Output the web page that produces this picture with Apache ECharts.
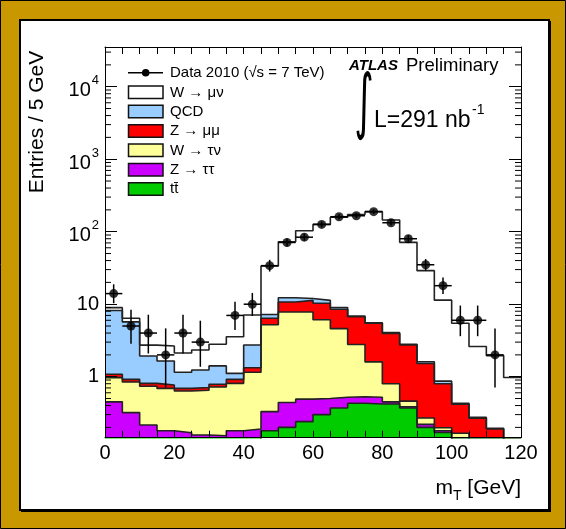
<!DOCTYPE html>
<html>
<head>
<meta charset="utf-8">
<script src="https://cdn.jsdelivr.net/npm/echarts@6/dist/echarts.min.js"></script>
<style>
  html, body { margin: 0; padding: 0; background: #C99700; }
  #chart { width: 566px; height: 529px; }
</style>
</head>
<body>
<div id="chart"></div>
<script>
// Transverse mass m_T, 5 GeV bins from 0 to 120 GeV
const binLow = [0, 5, 10, 15, 20, 25, 30, 35, 40, 45, 50, 55, 60, 65, 70, 75, 80, 85, 90, 95, 100, 105, 110, 115];
const binWidth = 5;

// Observed events per bin (Data 2010) with 68% Poisson interval ends
const dataCounts = [14, 5, 4, 2, 4, 3, 0, 7, 10, 34, 71, 84, 126, 161, 166, 189, 133, 80, 35, 18, 6, 6, 2, 0];
const dataLow  = [10.3, 2.84, 2.09, 0.71, 2.09, 1.37, null, 4.42, 6.89, 28.2, 62.6, 74.9, 114.8, 148.3, 153.1, 175.3, 121.5, 71.1, 29.1, 13.8, 3.62, 3.62, 0.71, null];
const dataHigh = [18.8, 8.38, 7.16, 4.64, 7.16, 5.92, null, 10.8, 14.3, 40.9, 80.5, 94.2, 138.3, 174.7, 179.9, 203.8, 145.6, 90.0, 41.9, 23.3, 9.58, 9.58, 4.64, null];

// Expected contributions per bin, listed from the bottom of the stack upwards
const ttbar   = [0.02, 0.02, 0.02, 0.02, 0.02, 0.02, 0.03, 0.05, 0.12, 0.18, 0.20, 0.24, 0.30, 0.37, 0.43, 0.42, 0.42, 0.37, 0.20, 0.17, 0.12, 0.09, 0.07, 0.05];
const zTauTau = [0.43, 0.30, 0.196, 0.16, 0.149, 0.137, 0.123, 0.13, 0.07, 0.15, 0.24, 0.25, 0.20, 0.15, 0.10, 0.10, 0.03, 0.016, 0.02, 0.01, 0.01, 0.01, 0.01, 0.01];
const wTauNu  = [0.52, 0.525, 0.524, 0.51, 0.466, 0.493, 0.567, 0.63, 0.96, 4.87, 7.36, 7.31, 5.6, 4.08, 2.25, 1.08, 0.35, 0.074, 0.05, 0.018, 0.036, 0.03, 0.02, 0.01];
const zMuMu   = [0.11, 0.075, 0.07, 0.08, 0.055, 0.06, 0.065, 0.11, 0.18, 1.2, 2.9, 3.5, 4.2, 3.9, 3.92, 3.85, 3.15, 2.28, 1.25, 0.60, 0.25, 0.137, 0.09, 0.01];
const qcd     = [7.12, 4.78, 1.12, 0.88, 0.46, 0.53, 0.625, 0.19, 1.41, 0.8, 1.6, 0.7, 1.0, 0.5, 0.15, 0.1, 0.1, 0.06, 0.09, 0.07, 0.014, 0.008, 0.005, 0.005];
const wMuNu   = [0.76, 0.70, 0.80, 1.00, 0.97, 1.09, 1.39, 2.45, 4.36, 26.4, 60.5, 91.0, 114.7, 149.0, 166.2, 183.4, 141.0, 68.5, 27.4, 10.5, 5.02, 2.33, 1.76, 0.89];

const legendLabels = ['Data 2010 (\u221As = 7 TeV)', 'W \u2192 \u03BC\u03BD', 'QCD', 'Z \u2192 \u03BC\u03BC', 'W \u2192 \u03C4\u03BD', 'Z \u2192 \u03C4\u03C4', 't\u0074\u0304'];

const FONT = "'Liberation Sans', Arial, Helvetica, sans-serif";
const X_MIN = 0, X_MAX = 120;
const Y_MIN = 0.1441, Y_MAX = 35280;

// Stack components (bottom first) and their fill colours
const components = [
  { label: legendLabels[6], values: ttbar,   color: '#00CC00' },
  { label: legendLabels[5], values: zTauTau, color: '#CC00FF' },
  { label: legendLabels[4], values: wTauNu,  color: '#FFFF99' },
  { label: legendLabels[3], values: zMuMu,   color: '#FF0000' },
  { label: legendLabels[2], values: qcd,     color: '#99CCFF' },
  { label: legendLabels[1], values: wMuNu,   color: '#FFFFFF' }
];

// Running sums give the top of each stacked layer
let running = binLow.map(() => 0);
components.forEach(c => {
  running = running.map((r, i) => r + c.values[i]);
  c.cumulative = running.slice();
});

// Each layer is drawn as a filled step outline over the bin edges,
// the highest sum first so lower layers paint over it.
const histSeries = components.slice().reverse().map(c => ({
  type: 'line',
  name: c.label,
  step: 'end',
  symbol: 'none',
  silent: true,
  animation: false,
  clip: true,
  data: binLow.concat([X_MAX]).map((x, i) => [x, c.cumulative[Math.min(i, binLow.length - 1)]]),
  lineStyle: { color: '#222', width: 1.6 },
  areaStyle: { color: c.color, opacity: 1, origin: 'start' }
}));

// Data points with error bars (empty bins are not drawn)
const pointData = [];
const errData = [];
binLow.forEach((lo, i) => {
  if (dataCounts[i] > 0) {
    const xc = lo + binWidth / 2;
    pointData.push([xc, dataCounts[i]]);
    errData.push([xc, dataCounts[i], dataLow[i], dataHigh[i], lo, lo + binWidth]);
  }
});

// Log-scale minor tick values (2..9 in every decade inside the range)
const minorVals = [];
for (let e = -1; e <= 4; e++) {
  for (let m = 2; m <= 9; m++) {
    const v = m * Math.pow(10, e);
    if (v > Y_MIN && v < Y_MAX) minorVals.push([v]);
  }
}

const chart = echarts.init(document.getElementById('chart'), null, { renderer: 'canvas' });

const xAxisBase = {
  type: 'value', min: X_MIN, max: X_MAX, interval: 20, z: 10,
  axisLine: { show: true, onZero: false, lineStyle: { color: '#000', width: 1 } },
  axisTick: { show: true, inside: true, length: 7, lineStyle: { color: '#000', width: 1 } },
  minorTick: { show: true, splitNumber: 4, length: 7, lineStyle: { color: '#000', width: 1 } },
  splitLine: { show: false },
  minorSplitLine: { show: false }
};
const yAxisBase = {
  type: 'log', logBase: 10, min: Y_MIN, max: Y_MAX, z: 10,
  axisLine: { show: true, onZero: false, lineStyle: { color: '#000', width: 1 } },
  axisTick: { show: true, inside: true, length: 12, lineStyle: { color: '#000', width: 1 } },
  splitLine: { show: false }
};

const option = {
  backgroundColor: 'transparent',
  animation: false,
  grid: { left: 105, top: 47, right: 45, bottom: 91.3, containLabel: false },
  xAxis: [
    Object.assign({}, xAxisBase, {
      position: 'bottom',
      axisLabel: { show: true, fontSize: 20, color: '#000', fontFamily: FONT, margin: 6 }
    }),
    Object.assign({}, xAxisBase, { position: 'top', axisLabel: { show: false } })
  ],
  yAxis: [
    Object.assign({}, yAxisBase, {
      position: 'left',
      axisLabel: {
        show: true, showMinLabel: false, showMaxLabel: false,
        fontSize: 20, color: '#000', fontFamily: FONT, margin: 6,
        formatter: v => {
          const e = Math.round(Math.log10(v));
          if (e === 0) return '1';
          if (e === 1) return '10';
          return '{b|10}{sup|' + e + '}';
        },
        rich: {
          b: { fontSize: 20, fontFamily: FONT, color: '#000', padding: [8, 0, 0, 0] },
          sup: { fontSize: 13, fontFamily: FONT, color: '#000', padding: [0, 0, 12, 1] }
        }
      }
    }),
    Object.assign({}, yAxisBase, { position: 'right', axisLabel: { show: false } })
  ],
  series: histSeries.concat([
    {
      // minor ticks of the log axis, on both sides of the frame
      type: 'custom', silent: true, z: 10, animation: false,
      data: minorVals,
      renderItem: (params, api) => {
        const left = api.coord([X_MIN, api.value(0)]);
        const right = api.coord([X_MAX, api.value(0)]);
        const st = { stroke: '#000', lineWidth: 1 };
        return {
          type: 'group',
          children: [
            { type: 'line', shape: { x1: left[0], y1: left[1], x2: left[0] + 6, y2: left[1] }, style: st },
            { type: 'line', shape: { x1: right[0] - 6, y1: right[1], x2: right[0], y2: right[1] }, style: st }
          ]
        };
      }
    },
    {
      // error bars of the data points
      type: 'custom', silent: true, z: 11, animation: false,
      data: errData,
      renderItem: (params, api) => {
        const c = api.coord([api.value(0), api.value(1)]);
        const lo = api.coord([api.value(0), api.value(2)]);
        const hi = api.coord([api.value(0), api.value(3)]);
        const l = api.coord([api.value(4), api.value(1)]);
        const r = api.coord([api.value(5), api.value(1)]);
        const st = { stroke: '#000', lineWidth: 1.5 };
        return {
          type: 'group',
          children: [
            { type: 'line', shape: { x1: c[0], y1: lo[1], x2: c[0], y2: hi[1] }, style: st },
            { type: 'line', shape: { x1: l[0], y1: c[1], x2: r[0], y2: c[1] }, style: st }
          ]
        };
      }
    },
    {
      type: 'scatter', name: legendLabels[0], silent: true, z: 12, animation: false,
      symbol: 'circle', symbolSize: 9,
      itemStyle: { color: '#000' },
      data: pointData
    }
  ]),
  graphic: buildGraphics()
};

function buildGraphics() {
  const g = [];
  // panel frame
  g.push({ type: 'rect', z: -10, shape: { x: 0.5, y: 0.5, width: 565, height: 528 }, style: { fill: '#C99700', stroke: '#000', lineWidth: 1 } });
  g.push({ type: 'rect', z: -9, shape: { x: 20, y: 20, width: 529, height: 490 }, style: { fill: '#fff', stroke: '#000', lineWidth: 2 } });
  g.push({ type: 'line', z: -8, shape: { x1: 550, y1: 21, x2: 550, y2: 511 }, style: { stroke: '#000', lineWidth: 2 } });
  g.push({ type: 'line', z: -8, shape: { x1: 21, y1: 511, x2: 551, y2: 511 }, style: { stroke: '#000', lineWidth: 2 } });

  // legend: data entry
  g.push({ type: 'line', z: 20, shape: { x1: 128, y1: 72.7, x2: 163, y2: 72.7 }, style: { stroke: '#000', lineWidth: 1.5 } });
  g.push({ type: 'circle', z: 21, shape: { cx: 145.7, cy: 72.7, r: 3.8 }, style: { fill: '#000' } });
  g.push({ type: 'text', z: 20, x: 170, y: 72.7, style: { text: legendLabels[0], font: '15px ' + FONT, fill: '#000', verticalAlign: 'middle', align: 'left' } });
  // legend: stacked components, top of the stack first
  const order = components.slice().reverse();
  order.forEach((c, k) => {
    const top = 86 + k * 19.35;
    g.push({ type: 'rect', z: 20, shape: { x: 128.5, y: top, width: 34.5, height: 12.5 }, style: { fill: c.color, stroke: '#111', lineWidth: 1.5 } });
    g.push({ type: 'text', z: 20, x: 170, y: top + 6.5, style: { text: c.label, font: '15px ' + FONT, fill: '#000', verticalAlign: 'middle', align: 'left' } });
  });

  // experiment label
  g.push({ type: 'text', z: 20, x: 349, y: 65.5, style: { text: 'ATLAS', font: 'italic bold 15px ' + FONT, fill: '#000', verticalAlign: 'middle' } });
  g.push({ type: 'text', z: 20, x: 406, y: 65.5, style: { text: 'Preliminary', font: '18.5px ' + FONT, fill: '#000', verticalAlign: 'middle' } });

  // integrated luminosity: a tall, slim integral sign
  g.push({ type: 'text', z: 20, x: 364, y: 106, scaleX: 0.6, scaleY: 1.15, style: { text: '\u222B', font: "62px 'DejaVu Sans', sans-serif", fill: '#000', verticalAlign: 'middle', align: 'center' } });
  g.push({ type: 'text', z: 20, x: 374, y: 120.5, style: { text: 'L=291 nb', font: '23px ' + FONT, fill: '#000', verticalAlign: 'middle' } });
  g.push({ type: 'text', z: 20, x: 472, y: 110, style: { text: '-1', font: '14px ' + FONT, fill: '#000', verticalAlign: 'middle' } });

  // axis titles
  g.push({ type: 'text', z: 20, x: 37, y: 122, rotation: Math.PI / 2, style: { text: 'Entries / 5 GeV', font: '21px ' + FONT, fill: '#000', align: 'center', verticalAlign: 'middle' } });
  g.push({ type: 'text', z: 20, x: 521, y: 488, style: {
    text: '{n|m}{s|T}{n| [GeV]}', align: 'right', verticalAlign: 'middle',
    rich: {
      n: { fontSize: 21, fontFamily: FONT, fill: '#000', color: '#000' },
      s: { fontSize: 14, fontFamily: FONT, fill: '#000', color: '#000', padding: [16, 0, 0, 0] }
    }
  } });
  return g;
}

chart.setOption(option);
</script>
</body>
</html>
